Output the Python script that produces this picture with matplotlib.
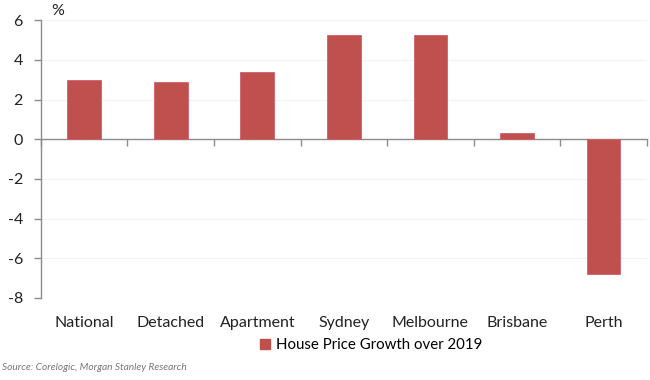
import matplotlib
matplotlib.use("Agg")
import matplotlib.pyplot as plt
import matplotlib.transforms as mtransforms
from matplotlib.patches import Patch

categories = ["National", "Detached", "Apartment", "Sydney", "Melbourne", "Brisbane", "Perth"]
values = [3.0, 2.86, 3.38, 5.27, 5.25, 0.32, -6.77]
yticks = [6, 4, 2, 0, -2, -4, -6, -8]
series_name = "House Price Growth over 2019"
source = "Source: Corelogic, Morgan Stanley Research"

plt.rcParams['font.family'] = ['Lato', 'DejaVu Sans']

fig = plt.figure(figsize=(6.5, 3.8), dpi=100)
ax = fig.add_axes([0.063, 0.216, 0.932, 0.731])

x = list(range(len(categories)))
ax.bar(x, values, width=0.39, color="#C0504D", edgecolor="#D0606A", linewidth=0.6, zorder=3)

ax.set_xlim(-0.5, len(categories) - 0.5)
ax.set_ylim(-8, 6)
ax.set_yticks(yticks)
ax.set_yticklabels([str(t) for t in yticks], fontsize=11.5, color="#222222")
ax.yaxis.grid(True, color="#F3F3F3", linewidth=0.8, zorder=0)

for s in ["top", "right"]:
    ax.spines[s].set_visible(False)
ax.spines["bottom"].set_position(("data", 0))
ax.spines["bottom"].set_color("#8C8C8C")
ax.spines["left"].set_color("#8C8C8C")
ax.spines["bottom"].set_linewidth(1.0)
ax.spines["left"].set_linewidth(1.0)

ax.set_xticks([i - 0.5 for i in range(len(categories) + 1)])
ax.set_xticklabels([])
ax.tick_params(axis="x", direction="out", length=5, color="#8C8C8C", width=1.0)
ax.tick_params(axis="y", direction="out", length=5, color="#8C8C8C", width=1.0, pad=8)

trans = mtransforms.blended_transform_factory(ax.transData, ax.transAxes)
for i, c in enumerate(categories):
    ax.text(i, -0.065, c, transform=trans, ha="center", va="top", fontsize=11.5, color="#222222")

fig.text(0.088, 0.99, "%", fontsize=11.5, ha="center", va="top", color="#222222")

handles = [Patch(facecolor="#C0504D", edgecolor="#C0504D", label=series_name)]
fig.legend(handles=handles, loc="center", bbox_to_anchor=(0.571, 0.092), frameon=False,
           fontsize=10.8, handlelength=0.7, handleheight=0.7, handletextpad=0.4)

fig.text(0.003, 0.02, source, fontsize=7.3, style="italic", color="#777777", ha="left", va="bottom")

fig.savefig("out.png", dpi=100)
